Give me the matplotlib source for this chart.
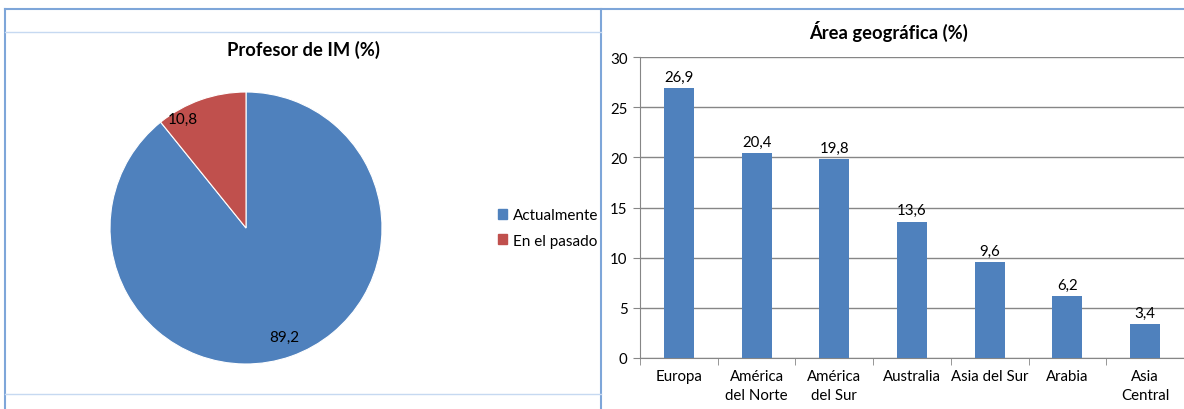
import matplotlib
matplotlib.use("Agg")
from matplotlib import pyplot as plt
from matplotlib.lines import Line2D
import numpy as np

plt.rcParams['font.family'] = ['Lato', 'DejaVu Sans']

# pie data
pie_labels = ["Actualmente", "En el pasado"]
pie_values = [89.2, 10.8]

# bar data
areas = ["Europa", "América\ndel Norte", "América\ndel Sur", "Australia",
         "Asia del Sur", "Arabia", "Asia\nCentral"]
area_values = [26.9, 20.4, 19.8, 13.6, 9.6, 6.2, 3.4]

blue = "#4F81BD"
red = "#C0504D"
border = "#7EA6D9"
light = "#C6D9F1"

fig = plt.figure(figsize=(11.84, 4.10), dpi=100)

W, H = 1184., 410.
def fx(px):
    return px / W
def fy(py):
    return 1 - py / H

# panel frames
fig.add_artist(Line2D([fx(5), 1], [fy(10), fy(10)], color=border, lw=1.5))
fig.add_artist(Line2D([fx(5), fx(5)], [fy(10), 0], color=border, lw=1.5))
fig.add_artist(Line2D([fx(601), fx(601)], [fy(10), 0], color=border, lw=1.5))
fig.add_artist(Line2D([fx(5), fx(601)], [fy(33), fy(33)], color=light, lw=1))
fig.add_artist(Line2D([fx(5), fx(601)], [fy(395), fy(395)], color=light, lw=1))

# ---- pie
ax1 = fig.add_axes([fx(246-136), fy(229+136), fx(272), 272/H])
wedges, texts = ax1.pie(pie_values, colors=[blue, red], startangle=90,
                        counterclock=False, radius=1,
                        wedgeprops=dict(edgecolor="white", linewidth=0.8))
ax1.set_xlim(-1, 1)
ax1.set_ylim(-1, 1)
ax1.set_aspect("auto")
for w, v in zip(wedges, pie_values):
    ang = np.deg2rad((w.theta1 + w.theta2) / 2)
    r = 0.85
    x, y = r*np.cos(ang), r*np.sin(ang)
    if v < 50:
        x -= 0.18
    ax1.text(x, y, f"{v:.1f}".replace(".", ","), ha="center", va="center",
             fontsize=11, color="black")

fig.text(fx(303), fy(50), "Profesor de IM (%)", ha="center", va="center",
         fontsize=13.2, fontweight="bold")

handles = [plt.Rectangle((0, 0), 1, 1, color=c) for c in [blue, red]]
fig.legend(handles, pie_labels, loc="center left",
           bbox_to_anchor=(fx(484), fy(229)), frameon=False,
           handlelength=0.6, handleheight=0.6, handletextpad=0.4,
           labelspacing=0.75, fontsize=11)

# ---- bars
ax2 = fig.add_axes([fx(640), fy(359), 1 - fx(640), (359-58)/H])
x = np.arange(len(areas))
bars = ax2.bar(x, area_values, width=0.385, color=blue, zorder=3)
ax2.bar_label(bars, labels=[f"{v:.1f}".replace(".", ",") for v in area_values],
              padding=3, fontsize=10.8)
ax2.set_xlim(-0.5, len(areas) - 0.5)
ax2.set_ylim(0, 30)
ax2.set_yticks(range(0, 31, 5))
ax2.yaxis.grid(True, color="#868686", linewidth=1, zorder=0)
ax2.set_xticks(x)
ax2.set_xticklabels(areas, fontsize=10.8, linespacing=1.45)
ax2.set_xticks(np.arange(-0.5, len(areas), 1), minor=True)
ax2.tick_params(axis="x", which="major", length=0, pad=8)
ax2.tick_params(axis="x", which="minor", length=5, color="#868686")
ax2.tick_params(axis="y", length=5, color="#868686", labelsize=10.8, pad=4)
for s in ["top", "right"]:
    ax2.spines[s].set_visible(False)
for s in ["left", "bottom"]:
    ax2.spines[s].set_color("#868686")

fig.text(fx(888), fy(31), "Área geográfica (%)", ha="center", va="center",
         fontsize=13.2, fontweight="bold")

fig.savefig("out.png", dpi=100)
